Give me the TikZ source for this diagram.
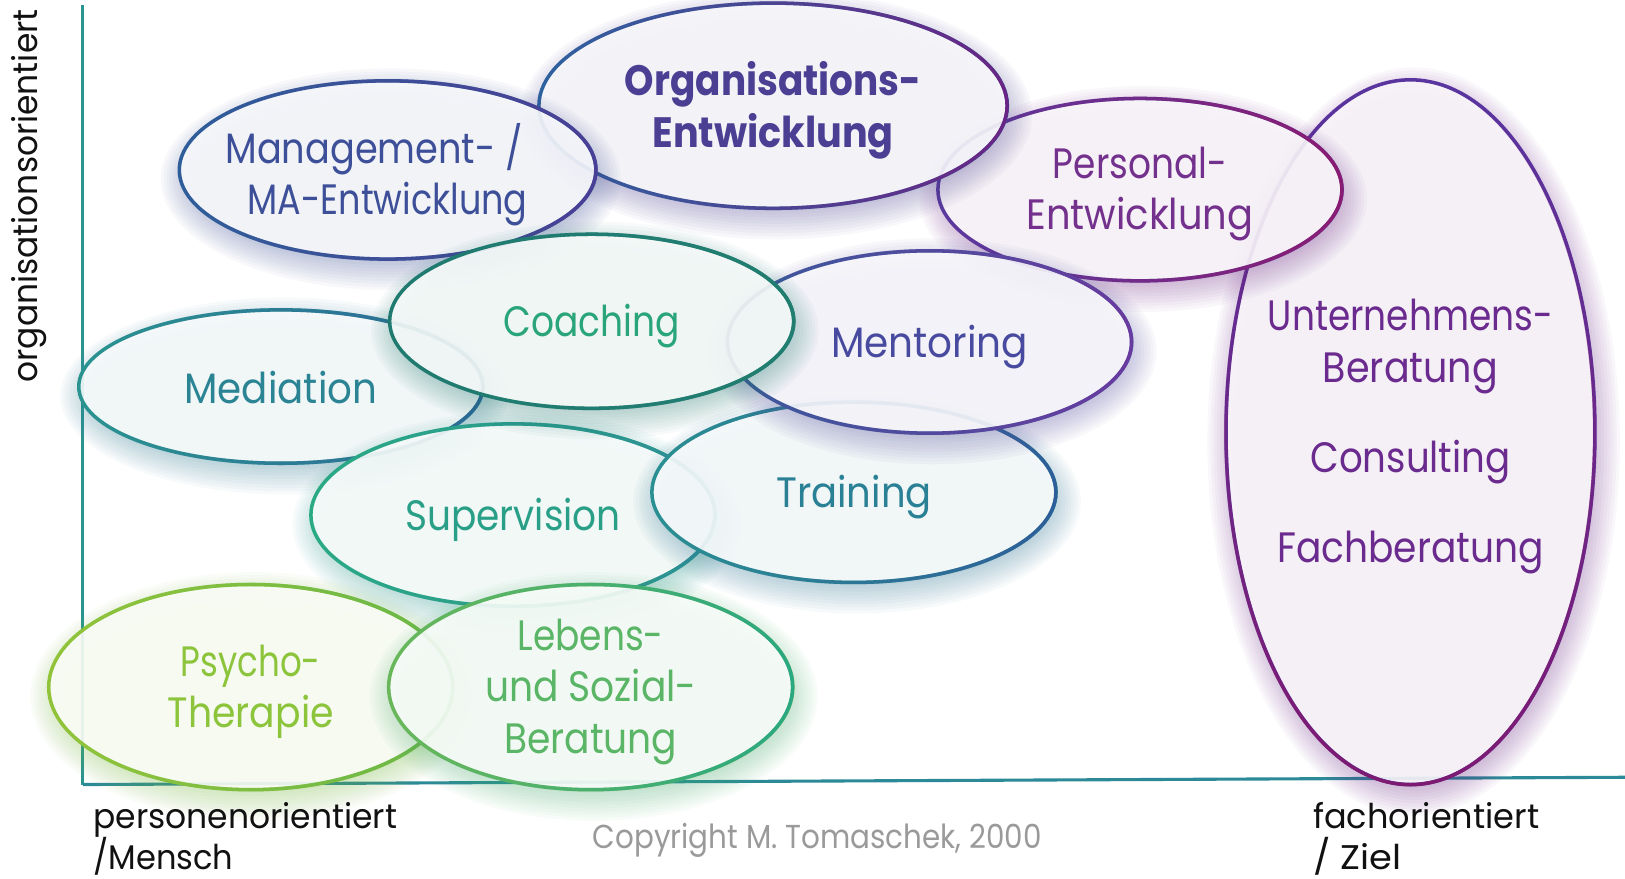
\documentclass[tikz,border=0pt]{standalone}
\usepackage{fontspec}
\setmainfont{Poppins}
\usepackage{graphicx}
\usetikzlibrary{shapes.geometric,fadings}

\definecolor{cAxis}{HTML}{2A9490}
\definecolor{cAxisR}{HTML}{2C8A98}
\definecolor{cGrey}{HTML}{9A9A9A}
\definecolor{cInk}{HTML}{111111}
% bubble colours
\definecolor{ubA}{HTML}{5A35A0}\definecolor{ubB}{HTML}{7E1A72}\definecolor{ubT}{HTML}{6A2A8E}
\definecolor{peA}{HTML}{5A3AA0}\definecolor{peB}{HTML}{8A1C72}\definecolor{peT}{HTML}{73308C}
\definecolor{orA}{HTML}{2E63A0}\definecolor{orB}{HTML}{6A2585}\definecolor{orT}{HTML}{4A3F93}
\definecolor{maA}{HTML}{2F5E9A}\definecolor{maB}{HTML}{4B3F96}\definecolor{maT}{HTML}{3D4F98}
\definecolor{meA}{HTML}{2A9490}\definecolor{meB}{HTML}{2F669A}\definecolor{meT}{HTML}{2A8494}
\definecolor{suA}{HTML}{2AAA85}\definecolor{suB}{HTML}{2E8F96}\definecolor{suT}{HTML}{2A9F88}
\definecolor{trA}{HTML}{2A9092}\definecolor{trB}{HTML}{2F5E9A}\definecolor{trT}{HTML}{2A8095}
\definecolor{mnA}{HTML}{3A5A9C}\definecolor{mnB}{HTML}{6A3AA0}\definecolor{mnT}{HTML}{474A9E}
\definecolor{coA}{HTML}{1F7A70}\definecolor{coB}{HTML}{237E72}\definecolor{coT}{HTML}{2AA57A}
\definecolor{psA}{HTML}{92C43A}\definecolor{psB}{HTML}{6AB84A}\definecolor{psT}{HTML}{8CC43C}
\definecolor{leA}{HTML}{6AB85A}\definecolor{leB}{HTML}{2AA882}\definecolor{leT}{HTML}{5AB566}

\newsavebox\fitbox
\newcommand\fitw[2]{\sbox\fitbox{#2}\pgfmathsetmacro\fitr{#1/\the\wd\fitbox}\scalebox{\fitr}[1]{\usebox\fitbox}}

% #1 name, #2 centre, #3 rx, #4 ry, #5 colour A, #6 colour B, #7 fading, #8 text options, #9 text
\newcommand\bubble[9]{%
  \colorlet{bubmid}{#5!50!#6}%
  \foreach \k in {0,...,9}{\fill[bubmid, opacity=0.034, shift={(3,9)}] #2 ellipse [x radius={#3-6+3*\k}, y radius={#4-6+3*\k}];}%
  \node[bub, fill=white!96!bubmid, minimum width={2*#3}, minimum height={2*#4}] (#1) at #2 {};%
  \draw[line width=3.4pt, #5] (#1.center) ellipse [x radius=#3, y radius=#4];%
  \draw[line width=3.4pt, #6, path fading=#7] (#1.center) ellipse [x radius=#3, y radius=#4];%
  \path (#1.center) ++(0,4.5) node[bubtext, #8] (#1-text) {#9};%
}

\begin{document}
\begin{tikzpicture}[x=1pt,y=-1pt,
  bub/.style={ellipse, inner sep=0pt, outer sep=0pt, draw=none, fill opacity=0.9},
  bubtext/.style={inner sep=0pt, align=center, font=\fontsize{41}{49}\selectfont},
  axis/.style={line width=3pt, cAxis},
  axlabel/.style={inner sep=0pt, text=cInk, font=\fontsize{33}{40}\selectfont}]
\useasboundingbox (0,0) rectangle (1568,848);
\fill[white] (0,0) rectangle (1568,848);

% axes
\coordinate (O) at (80,757);
\coordinate (Ytop) at (80,5);
\coordinate (Xend) at (1568,750);
\draw[axis] (Ytop) -- (O);
\draw[axis, cAxisR] (O) -- (Xend);

% bubbles, back to front
\bubble{ub}{(1361,417)}{178}{340}{ubA}{ubB}{north}{text=ubT, font=\fontsize{41}{50}\selectfont}
  {\fitw{275}{Unternehmens-}\\\fitw{169}{Beratung}\\[37pt]\fitw{193}{Consulting}\\[37pt]\fitw{257}{Fachberatung}}
\bubble{pe}{(1100,183)}{195}{88}{peA}{peB}{west}{text=peT}
  {\fitw{168}{Personal-}\\\fitw{219}{Entwicklung}}
\bubble{or}{(746,102)}{226}{99}{orA}{orB}{west}{text=orT, font=\fontsize{41}{50}\selectfont\bfseries}
  {\fitw{286}{Organisations-}\\\fitw{233}{Entwicklung}}
\bubble{ma}{(374,164)}{201}{86}{maA}{maB}{west}{text=maT}
  {\fitw{287}{Management- /}\kern26pt\\\fitw{270}{MA-Entwicklung}}
\bubble{me}{(271,373)}{195}{74}{meA}{meB}{west}{text=meT, yshift=4pt}
  {\fitw{186}{Mediation}}
\bubble{su}{(495,497)}{195}{88}{suA}{suB}{west}{text=suT}
  {\fitw{208}{Supervision}}
\bubble{tr}{(824,475)}{195}{87}{trA}{trB}{west}{text=trT}
  {\fitw{150}{Training}}
\bubble{mn}{(897,330)}{195}{88}{mnA}{mnB}{west}{text=mnT}
  {\fitw{190}{Mentoring}}
\bubble{co}{(571,310)}{195}{84}{coA}{coB}{west}{text=coT}
  {\fitw{170}{Coaching}}
\bubble{ps}{(242,663)}{195}{99}{psA}{psB}{west}{text=psT, font=\fontsize{41}{50}\selectfont}
  {\fitw{135}{Psycho-}\\\fitw{160}{Therapie}}
\bubble{le}{(570,663)}{195}{99}{leA}{leB}{west}{text=leT, font=\fontsize{41}{49.5}\selectfont}
  {\fitw{141}{Lebens-}\\\fitw{204}{und Sozial-}\\\fitw{167}{Beratung}}

% axis labels
\node[axlabel, rotate=90] (ylab) at (28,189) {\fitw{360}{organisationsorientiert}};
\node[axlabel, anchor=base west] (xl1) at (90,799) {\fitw{293}{personenorientiert}};
\node[axlabel, anchor=base west] (xl2) at (90,839) {\fitw{135}{/Mensch}};
\node[axlabel, anchor=base west] (xr1) at (1267,799) {\fitw{218}{fachorientiert}};
\node[axlabel, anchor=base west] (xr2) at (1267,839) {\fitw{85}{/ Ziel}};
\node[axlabel, text=cGrey, anchor=base, font=\fontsize{32}{38}\selectfont] (copy) at (788.5,819)
  {\fitw{433}{Copyright M. Tomaschek, 2000}};
\end{tikzpicture}
\end{document}
